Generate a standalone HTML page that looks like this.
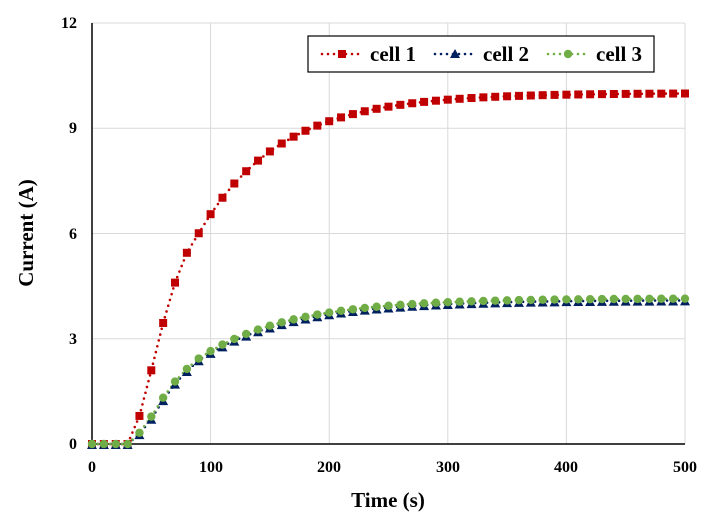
<!DOCTYPE html>
<html><head><meta charset="utf-8"><style>
html,body{margin:0;padding:0;background:#fff;}
svg{display:block;font-family:"Liberation Serif",serif;font-weight:bold;}
</style></head><body>
<svg id="s" width="716" height="522" xmlns="http://www.w3.org/2000/svg">
<rect width="716" height="522" fill="#fff"/>
<g id="grid" stroke="#d9d9d9" stroke-width="1"></g>
<line x1="92" y1="23" x2="92" y2="444" stroke="#000" stroke-width="1.5"/>
<line x1="92" y1="444" x2="685" y2="444" stroke="#000" stroke-width="1.5"/>
<g font-size="16" text-anchor="end" fill="#000">
<text x="77" y="449">0</text><text x="77" y="344">3</text><text x="77" y="239">6</text><text x="77" y="133">9</text><text x="77" y="28">12</text>
</g>
<g font-size="16" text-anchor="middle" fill="#000">
<text x="92" y="472">0</text><text x="211" y="472">100</text><text x="329" y="472">200</text><text x="448" y="472">300</text><text x="566" y="472">400</text><text x="685" y="472">500</text>
</g>
<text x="388" y="507" font-size="21" text-anchor="middle">Time (s)</text>
<text transform="translate(33,233) rotate(-90)" font-size="21" text-anchor="middle">Current (A)</text>
<g id="data"></g>
<rect x="308" y="36" width="346" height="36" fill="#fff" stroke="#000" stroke-width="1.2"/>
<g font-size="21" fill="#000">
<text x="370" y="61">cell 1</text><text x="483" y="61">cell 2</text><text x="596" y="61">cell 3</text>
</g>
<g id="leg"></g>
</svg>
<script>
var ns="http://www.w3.org/2000/svg";
function X(t){return 92+t*593/500;}
function Y(v){return 444-v*421/12;}
function el(p,n,a){var e=document.createElementNS(ns,n);for(var k in a)e.setAttribute(k,a[k]);p.appendChild(e);return e;}
var g=document.getElementById('grid');
[100,200,300,400,500].forEach(function(t){el(g,'line',{x1:X(t),y1:23,x2:X(t),y2:444});});
[3,6,9,12].forEach(function(v){el(g,'line',{x1:92,y1:Y(v),x2:685,y2:Y(v)});});
el(g,'line',{x1:685,y1:23,x2:685,y2:444});
var c1=[],c2=[],c3=[];
for(var t=0;t<=500;t+=10){
 var a=t<=30?0:10*(1-Math.exp(-(t-27.2)/68.4));
 var b=t<=30?0:4.1*(1-Math.exp(-(t-23.7)/76));
 c1.push([t,a]);c2.push([t,b]);c3.push([t,b>0?b+0.05:0]);
}
c1[4][1]=0.8;c1[5][1]=2.1;c1[6][1]=3.45;c1[7][1]=4.6;c1[8][1]=5.45;
c2[4][1]=0.28;c2[5][1]=0.72;c2[6][1]=1.25;c2[7][1]=1.72;c2[8][1]=2.08;
c3[4][1]=0.32;c3[5][1]=0.78;c3[6][1]=1.32;c3[7][1]=1.78;c3[8][1]=2.14;
var d=document.getElementById('data');
function line(p,pts,col){var s=pts.map(function(q){return X(q[0])+','+Y(q[1]);}).join(' ');
 el(p,'polyline',{points:s,fill:'none',stroke:col,'stroke-width':2.6,'stroke-dasharray':'0 6','stroke-linecap':'round'});}
function sq(p,x,y,c){el(p,'rect',{x:x-4,y:y-4,width:8,height:8,fill:c});}
function tri(p,x,y,c){el(p,'polygon',{points:(x)+','+(y-5)+' '+(x-5)+','+(y+4)+' '+(x+5)+','+(y+4),fill:c});}
function ci(p,x,y,c){el(p,'circle',{cx:x,cy:y,r:4.2,fill:c});}
line(d,c1,'#C00000');line(d,c2,'#002060');line(d,c3,'#70AD47');
c1.forEach(function(q){sq(d,X(q[0]),Y(q[1]),'#C00000');});
c2.forEach(function(q){tri(d,X(q[0]),Y(q[1])+1,'#002060');});
c3.forEach(function(q){ci(d,X(q[0]),Y(q[1]),'#70AD47');});
var L=document.getElementById('leg');
[[322,'#C00000',sq],[435,'#002060',tri],[548,'#70AD47',ci]].forEach(function(a){
 el(L,'line',{x1:a[0],y1:54,x2:a[0]+40,y2:54,stroke:a[1],'stroke-width':2.6,'stroke-dasharray':'0 6','stroke-linecap':'round'});
 a[2](L,a[0]+20,54,a[1]);});
</script>
</body></html>
